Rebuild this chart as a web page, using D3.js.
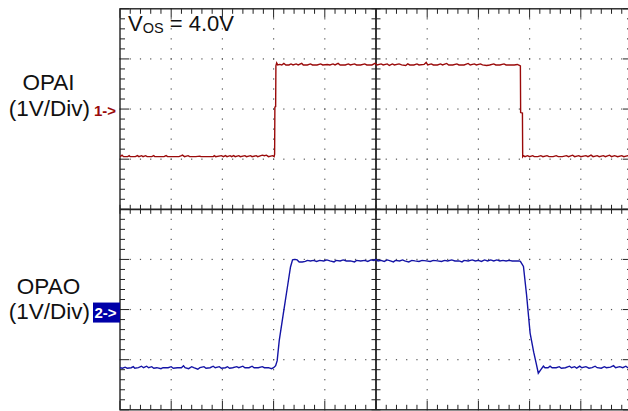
<!DOCTYPE html>
<html><head><meta charset="utf-8">
<script src="https://cdn.jsdelivr.net/npm/d3@7"></script>
<style>
html,body{margin:0;padding:0;background:#fff;}
svg{display:block;font-family:"Liberation Sans",Arial,Helvetica,sans-serif;}
</style></head>
<body>
<svg id="c" width="628" height="411"></svg>
<script>
// Time in divisions (0..10), voltage in V (1V/div) relative to each channel marker
const ch1 = [
[0.00,-0.95],[0.04,-0.92],[0.07,-0.95],[0.15,-0.95],[0.18,-0.93],[0.20,-0.95],[0.30,-0.95],[0.34,-0.93],[0.37,-0.95],[0.42,-0.93],[0.45,-0.95],[0.50,-0.93],[0.53,-0.95],[0.62,-0.95],[0.66,-0.93],[0.68,-0.95],[0.78,-0.95],[0.86,-0.95],[0.90,-0.93],[0.93,-0.95],[1.05,-0.95],[1.15,-0.95],[1.20,-0.93],[1.22,-0.92],[1.26,-0.95],[1.33,-0.93],[1.36,-0.95],[1.48,-0.95],[1.56,-0.94],[1.58,-0.95],[1.70,-0.95],[1.82,-0.95],[1.84,-0.93],[1.87,-0.95],[1.98,-0.93],[2.02,-0.95],[2.06,-0.93],[2.09,-0.95],[2.15,-0.93],[2.18,-0.95],[2.22,-0.93],[2.25,-0.95],[2.32,-0.93],[2.35,-0.95],[2.44,-0.93],[2.47,-0.95],[2.55,-0.93],[2.58,-0.95],[2.66,-0.93],[2.69,-0.95],[2.78,-0.92],[2.82,-0.93],[2.86,-0.92],[2.90,-0.95],[2.98,-0.93],[3.01,-0.95],
[3.02,-0.90],[3.025,0.04],[3.04,0.05],[3.045,0.86],[3.06,0.92],[3.08,0.88],
[3.12,0.89],[3.16,0.88],[3.20,0.91],[3.24,0.88],[3.30,0.88],[3.34,0.90],[3.38,0.88],[3.44,0.90],[3.48,0.88],[3.55,0.91],[3.58,0.88],[3.66,0.88],[3.72,0.90],[3.76,0.88],[3.85,0.88],[3.92,0.90],[3.96,0.88],[4.05,0.89],[4.10,0.88],[4.16,0.90],[4.20,0.88],[4.26,0.91],[4.30,0.88],[4.40,0.88],[4.46,0.90],[4.50,0.88],[4.58,0.90],[4.62,0.88],[4.70,0.88],[4.78,0.90],[4.82,0.88],[4.92,0.88],[4.98,0.91],[5.02,0.88],[5.10,0.90],[5.14,0.88],[5.22,0.90],[5.26,0.87],[5.32,0.90],[5.36,0.88],[5.45,0.90],[5.50,0.88],[5.58,0.87],[5.62,0.90],[5.66,0.88],[5.74,0.88],[5.80,0.90],[5.84,0.88],[5.94,0.89],[5.98,0.93],[6.01,0.88],[6.08,0.90],[6.12,0.88],[6.20,0.88],[6.26,0.90],[6.30,0.88],[6.38,0.91],[6.42,0.88],[6.50,0.88],[6.58,0.90],[6.62,0.88],[6.72,0.88],[6.80,0.91],[6.84,0.88],[6.92,0.90],[6.96,0.88],[7.04,0.90],[7.08,0.88],[7.16,0.87],[7.22,0.88],[7.30,0.90],[7.34,0.88],[7.42,0.88],[7.50,0.90],[7.54,0.88],[7.62,0.88],[7.70,0.88],[7.76,0.89],[7.80,0.87],
[7.82,0.86],[7.825,-0.07],[7.86,-0.08],[7.865,-0.95],
[7.88,-0.93],[7.91,-0.95],[7.96,-0.93],[8.00,-0.95],[8.06,-0.93],[8.09,-0.95],[8.16,-0.95],[8.22,-0.93],[8.26,-0.95],[8.34,-0.93],[8.38,-0.95],[8.46,-0.95],[8.52,-0.93],[8.56,-0.95],[8.64,-0.95],[8.72,-0.93],[8.76,-0.95],[8.84,-0.92],[8.88,-0.95],[8.96,-0.93],[9.00,-0.95],[9.10,-0.93],[9.14,-0.95],[9.20,-0.92],[9.24,-0.95],[9.32,-0.93],[9.36,-0.95],[9.44,-0.93],[9.48,-0.95],[9.56,-0.92],[9.60,-0.95],[9.66,-0.93],[9.72,-0.95],[9.80,-0.93],[9.84,-0.95],[9.92,-0.93],[10.0,-0.95]
];
const ch2 = [
[0.00,-1.16],[0.05,-1.17],[0.10,-1.15],[0.14,-1.17],[0.22,-1.16],[0.26,-1.14],[0.29,-1.17],[0.36,-1.16],[0.42,-1.13],[0.46,-1.16],[0.52,-1.13],[0.56,-1.16],[0.62,-1.14],[0.66,-1.17],[0.72,-1.16],[0.80,-1.18],[0.84,-1.16],[0.94,-1.16],[1.00,-1.14],[1.04,-1.17],[1.12,-1.16],[1.20,-1.16],[1.24,-1.12],[1.27,-1.16],[1.34,-1.18],[1.40,-1.14],[1.44,-1.16],[1.52,-1.19],[1.56,-1.16],[1.64,-1.14],[1.68,-1.17],[1.76,-1.16],[1.82,-1.13],[1.86,-1.16],[1.94,-1.14],[1.98,-1.17],[2.06,-1.16],[2.10,-1.14],[2.14,-1.17],[2.20,-1.16],[2.28,-1.14],[2.32,-1.16],[2.40,-1.13],[2.44,-1.16],[2.52,-1.16],[2.58,-1.13],[2.62,-1.16],[2.70,-1.16],[2.78,-1.14],[2.82,-1.16],[2.90,-1.16],[2.96,-1.18],[3.00,-1.16],
[3.04,-1.12],[3.07,-1.02],[3.11,-0.62],[3.19,-0.08],[3.27,0.45],[3.33,0.85],[3.37,0.99],[3.42,1.00],[3.46,0.99],[3.50,0.95],[3.56,0.95],[3.62,0.96],[3.66,0.98],
[3.72,0.97],[3.78,0.98],[3.84,0.96],[3.90,0.98],[3.98,0.97],[4.04,0.99],[4.10,0.97],[4.18,0.95],[4.22,0.98],[4.30,0.97],[4.36,0.99],[4.42,0.97],[4.50,0.97],[4.58,0.95],[4.62,0.98],[4.70,0.97],[4.78,0.98],[4.84,0.96],[4.90,0.99],[4.96,0.98],[5.00,1.00],[5.04,0.97],[5.10,0.98],[5.16,0.96],[5.22,0.99],[5.28,0.97],[5.34,0.95],[5.38,0.98],[5.46,0.97],[5.52,0.99],[5.56,0.97],[5.64,0.95],[5.70,0.98],[5.76,0.97],[5.84,0.96],[5.90,0.98],[5.98,0.97],[6.06,0.96],[6.12,0.98],[6.20,0.97],[6.28,0.96],[6.34,0.98],[6.40,0.97],[6.48,0.99],[6.54,0.97],[6.62,0.97],[6.68,0.95],[6.72,0.98],[6.80,0.97],[6.88,0.99],[6.94,0.97],[7.00,0.98],[7.06,0.96],[7.12,0.99],[7.18,0.97],[7.24,0.99],[7.30,0.97],[7.36,0.99],[7.42,0.97],[7.48,0.98],[7.54,0.97],[7.60,0.98],[7.66,0.97],[7.72,0.97],[7.79,0.97],
[7.82,0.96],[7.88,0.86],[7.94,0.30],[8.01,-0.47],[8.08,-0.85],[8.13,-1.08],[8.17,-1.27],[8.22,-1.20],[8.27,-1.13],[8.30,-1.16],
[8.36,-1.16],[8.40,-1.13],[8.44,-1.16],[8.52,-1.16],[8.58,-1.14],[8.62,-1.17],[8.70,-1.16],[8.78,-1.13],[8.82,-1.16],[8.88,-1.14],[8.92,-1.17],[8.98,-1.13],[9.02,-1.16],[9.10,-1.14],[9.16,-1.17],[9.22,-1.16],[9.28,-1.13],[9.32,-1.16],[9.40,-1.17],[9.46,-1.14],[9.50,-1.16],[9.58,-1.15],[9.64,-1.12],[9.68,-1.16],[9.76,-1.14],[9.82,-1.16],[9.88,-1.13],[9.92,-1.16],[10.0,-1.16]
];
const channelNames = ["OPAI","OPAO"];
const scaleLabels = ["(1V/Div)","(1V/Div)"];
const markerLabels = ["1->","2->"];
const markerLevels = [2, 6];   // divisions from top where marker points
const vosLabel = ["V","OS"," = 4.0V"];
const colors = ["#9a0a0a","#1414a6"];

const L = 120, R = 632, T = 8.8, B = 409.8;
const svg = d3.select("#c");
const gx = d3.scaleLinear().domain([0,10]).range([L,R]);
const gy = d3.scaleLinear().domain([0,8]).range([T,B]);
const y1 = d3.scaleLinear().domain([markerLevels[0], markerLevels[0]-8]).range([T,B]);
const y2 = d3.scaleLinear().domain([markerLevels[1], markerLevels[1]-8]).range([T,B]);

const minorX = d3.range(0, 10.001, 0.2);
const minorY = d3.range(0, 8.001, 0.2);
const isMajor = v => Math.abs(v - Math.round(v)) < 1e-6;

// grid dots
const dots = svg.append("g").attr("fill","#555");
[1,2,3,4,6,7,8,9].forEach(gv => {
  minorY.forEach(m => dots.append("rect").attr("x", gx(gv)-0.6).attr("y", gy(m)-0.6).attr("width",1.2).attr("height",1.2));
});
[1,2,3,5,6,7].forEach(gh => {
  minorX.forEach(m => dots.append("rect").attr("x", gx(m)-0.6).attr("y", gy(gh)-0.6).attr("width",1.2).attr("height",1.2));
});

// frame + center axes
const ax = svg.append("g").attr("stroke","#222").attr("fill","none");
ax.append("rect").attr("x",L).attr("y",T).attr("width",R-L).attr("height",B-T).attr("stroke-width",1.4);
ax.append("line").attr("x1",gx(5)).attr("x2",gx(5)).attr("y1",T).attr("y2",B).attr("stroke-width",1.8);
ax.append("line").attr("x1",L).attr("x2",R).attr("y1",gy(4)).attr("y2",gy(4)).attr("stroke-width",1.8);

const tk = svg.append("g").attr("stroke","#222").attr("stroke-width",1);
minorX.forEach(m => {
  const len = isMajor(m) ? 9 : 5;
  tk.append("line").attr("x1",gx(m)).attr("x2",gx(m)).attr("y1",T).attr("y2",T+len);
  tk.append("line").attr("x1",gx(m)).attr("x2",gx(m)).attr("y1",B).attr("y2",B-len);
  tk.append("line").attr("x1",gx(m)).attr("x2",gx(m)).attr("y1",gy(4)-4.5).attr("y2",gy(4)+4.5);
});
minorY.forEach(m => {
  const len = isMajor(m) ? 9 : 5;
  tk.append("line").attr("y1",gy(m)).attr("y2",gy(m)).attr("x1",L).attr("x2",L+len);
  tk.append("line").attr("y1",gy(m)).attr("y2",gy(m)).attr("x1",R).attr("x2",R-len);
  tk.append("line").attr("y1",gy(m)).attr("y2",gy(m)).attr("x1",gx(5)-4.5).attr("x2",gx(5)+4.5);
});

// traces
svg.append("clipPath").attr("id","pc").append("rect").attr("x",L).attr("y",T).attr("width",R-L).attr("height",B-T);
const tr = svg.append("g").attr("clip-path","url(#pc)");
tr.append("path").datum(ch1).attr("fill","none").attr("stroke",colors[0]).attr("stroke-width",1.4)
  .attr("d", d3.line().x(d=>gx(d[0])).y(d=>y1(d[1])));
tr.append("path").datum(ch2).attr("fill","none").attr("stroke",colors[1]).attr("stroke-width",1.4)
  .attr("d", d3.line().x(d=>gx(d[0])).y(d=>y2(d[1])));

// labels
const lab = svg.append("g").attr("fill","#111").attr("font-size",22.5).attr("text-anchor","middle");
lab.append("text").attr("x",48.5).attr("y",gy(markerLevels[0])-19).text(channelNames[0]);
lab.append("text").attr("x",49.5).attr("y",gy(markerLevels[0])+7).text(scaleLabels[0]);
lab.append("text").attr("x",48.5).attr("y",gy(markerLevels[1])-16).text(channelNames[1]);
lab.append("text").attr("x",49.5).attr("y",gy(markerLevels[1])+9).text(scaleLabels[1]);

svg.append("text").attr("x",94).attr("y",gy(markerLevels[0])+6.5).attr("font-size",15).attr("font-weight","bold")
  .attr("fill",colors[0]).text(markerLabels[0]);
svg.append("rect").attr("x",93).attr("y",gy(markerLevels[1])-7).attr("width",27).attr("height",20).attr("fill","#0000a8");
svg.append("text").attr("x",94.5).attr("y",gy(markerLevels[1])+8.5).attr("font-size",15).attr("font-weight","bold")
  .attr("fill","#fff").text(markerLabels[1]);

const v = svg.append("text").attr("x",128).attr("y",31).attr("font-size",22).attr("fill","#111");
v.append("tspan").text(vosLabel[0]);
v.append("tspan").attr("font-size",14.5).attr("dy",2).text(vosLabel[1]);
v.append("tspan").attr("dy",-2).text(vosLabel[2]);
</script>
</body></html>
